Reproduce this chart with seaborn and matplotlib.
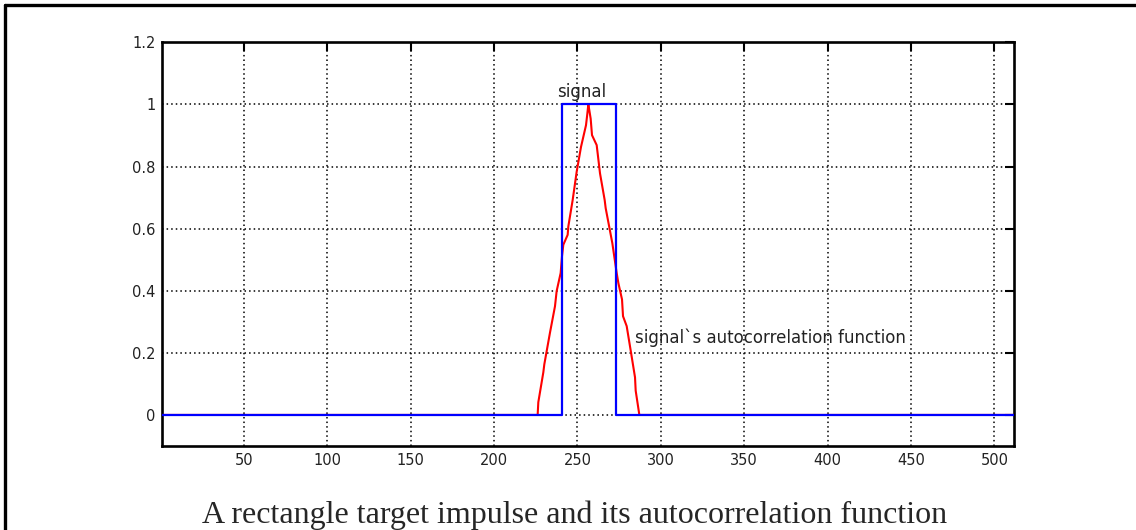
import matplotlib
matplotlib.use("Agg")
import matplotlib.pyplot as plt
from matplotlib.lines import Line2D
import seaborn as sns
import pandas as pd

# ---- data ----
signal_x = [1, 241, 241, 273, 273, 512]
signal_y = [0, 0, 1, 1, 0, 0]

acf_x = [1, 226.1, 226.5, 229.5, 230.1, 233.5, 236.5, 237.5, 239.9, 240.7, 241.5,
         244.1, 244.5, 247.1, 249.5, 252.1, 255.1, 255.9, 256.5,
         257.1, 257.9, 258.7, 261.5, 262.1, 263.5, 266.3, 266.9, 270.9, 273.5,
         274.5, 276.7, 277.3, 279.5, 282.1, 284.5, 284.9, 287.1, 512]
acf_y = [0, 0, 0.041, 0.137, 0.163, 0.265, 0.350, 0.399, 0.457, 0.511, 0.548,
         0.580, 0.607, 0.692, 0.783, 0.863, 0.933, 0.970, 1.0,
         0.981, 0.954, 0.901, 0.869, 0.842, 0.778, 0.692, 0.666, 0.553, 0.457,
         0.425, 0.372, 0.318, 0.286, 0.201, 0.121, 0.078, 0, 0]

x_ticks = [50, 100, 150, 200, 250, 300, 350, 400, 450, 500]
y_ticks = [0, 0.2, 0.4, 0.6, 0.8, 1.0, 1.2]
y_tick_labels = ["0", "0.2", "0.4", "0.6", "0.8", "1", "1.2"]

label_signal = "signal"
label_acf = "signal`s autocorrelation function"
caption = "A rectangle target impulse and its autocorrelation function"

# ---- plotting ----
sns.set_style("white")
plt.rcParams["font.family"] = ["DejaVu Sans"]

fig = plt.figure(figsize=(11.36, 5.30), dpi=100)
ax = fig.add_axes([0.1429, 0.1585, 0.75, 0.7617])

df_acf = pd.DataFrame({"x": acf_x, "y": acf_y})
df_sig = pd.DataFrame({"x": signal_x, "y": signal_y})
sns.lineplot(data=df_acf, x="x", y="y", ax=ax, color="#ff0000", linewidth=1.5,
             estimator=None, sort=False, zorder=3)
sns.lineplot(data=df_sig, x="x", y="y", ax=ax, color="#0000ff", linewidth=1.6,
             estimator=None, sort=False, zorder=4)

ax.set_xlim(1, 512)
ax.set_ylim(-0.1, 1.2)
ax.set_xticks(x_ticks)
ax.set_xticklabels([str(t) for t in x_ticks])
ax.set_yticks(y_ticks)
ax.set_yticklabels(y_tick_labels)
ax.set_xlabel("")
ax.set_ylabel("")

ax.grid(True, color="black", linestyle=(0, (1, 2.0)), linewidth=1.1)
ax.set_axisbelow(True)
for s in ax.spines.values():
    s.set_visible(True)
    s.set_color("black")
    s.set_linewidth(1.9)
ax.tick_params(axis="both", which="both", direction="in", length=6.5, width=1.5,
               top=True, right=True, labelsize=10.5, colors="black", pad=5)
for lab in ax.get_xticklabels() + ax.get_yticklabels():
    lab.set_color("#222222")

ax.text(252.7, 1.04, label_signal, fontsize=12, ha="center", va="center", color="#222222")
ax.text(284.5, 0.25, label_acf, fontsize=12, ha="left", va="center", color="#222222")

fig.text(0.506, 0.0126, caption, fontsize=23, family=["Liberation Serif", "DejaVu Serif"],
         ha="center", va="baseline")

# figure frame (left and top edges)
fig.add_artist(Line2D([4.5 / 1136, 4.5 / 1136], [0, 1 - 4.5 / 530], transform=fig.transFigure,
                      color="black", linewidth=2.4))
fig.add_artist(Line2D([4.5 / 1136, 1], [1 - 4.5 / 530, 1 - 4.5 / 530], transform=fig.transFigure,
                      color="black", linewidth=2.4))

fig.savefig("out.png", dpi=100)
